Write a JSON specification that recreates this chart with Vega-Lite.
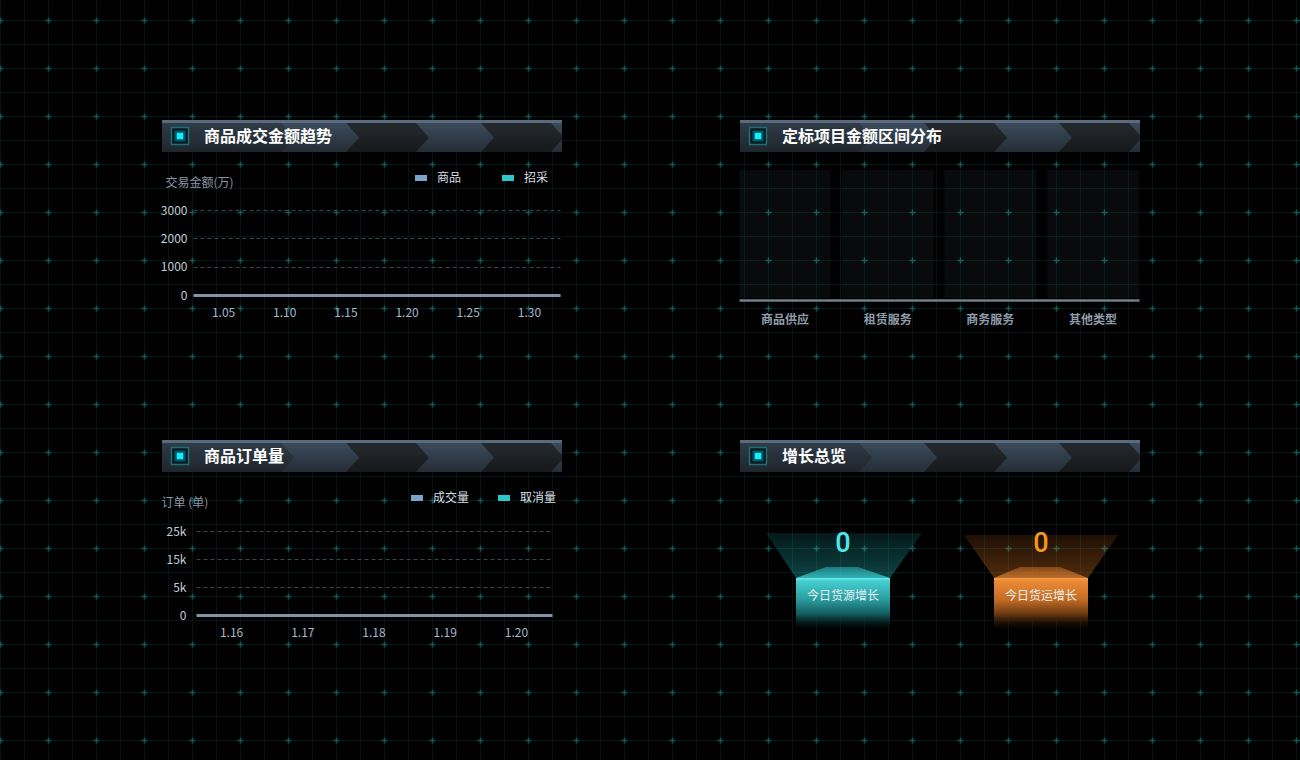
{
  "$schema": "https://vega.github.io/schema/vega-lite/v6.json",
  "width": 1300,
  "height": 760,
  "autosize": {"type": "none"},
  "padding": 0,
  "background": "#000000",
  "config": {
    "view": {"stroke": null},
    "font": "Noto Sans CJK SC",
    "axis": {"labelFont": "Noto Sans CJK SC", "titleFont": "Noto Sans CJK SC"},
    "legend": {"labelFont": "Noto Sans CJK SC"}
  },
  "datasets": {
    "panels": [
      {"title": "商品成交金额趋势", "col": "left", "row": "top"},
      {"title": "定标项目金额区间分布", "col": "right", "row": "top"},
      {"title": "商品订单量", "col": "left", "row": "bottom"},
      {"title": "增长总览", "col": "right", "row": "bottom"}
    ],
    "trend": [
      {"date": "1.03", "type": "商品", "amount": 0}, {"date": "1.03", "type": "招采", "amount": 0},
      {"date": "1.04", "type": "商品", "amount": 0}, {"date": "1.04", "type": "招采", "amount": 0},
      {"date": "1.05", "type": "商品", "amount": 0}, {"date": "1.05", "type": "招采", "amount": 0},
      {"date": "1.06", "type": "商品", "amount": 0}, {"date": "1.06", "type": "招采", "amount": 0},
      {"date": "1.07", "type": "商品", "amount": 0}, {"date": "1.07", "type": "招采", "amount": 0},
      {"date": "1.08", "type": "商品", "amount": 0}, {"date": "1.08", "type": "招采", "amount": 0},
      {"date": "1.09", "type": "商品", "amount": 0}, {"date": "1.09", "type": "招采", "amount": 0},
      {"date": "1.10", "type": "商品", "amount": 0}, {"date": "1.10", "type": "招采", "amount": 0},
      {"date": "1.11", "type": "商品", "amount": 0}, {"date": "1.11", "type": "招采", "amount": 0},
      {"date": "1.12", "type": "商品", "amount": 0}, {"date": "1.12", "type": "招采", "amount": 0},
      {"date": "1.13", "type": "商品", "amount": 0}, {"date": "1.13", "type": "招采", "amount": 0},
      {"date": "1.14", "type": "商品", "amount": 0}, {"date": "1.14", "type": "招采", "amount": 0},
      {"date": "1.15", "type": "商品", "amount": 0}, {"date": "1.15", "type": "招采", "amount": 0},
      {"date": "1.16", "type": "商品", "amount": 0}, {"date": "1.16", "type": "招采", "amount": 0},
      {"date": "1.17", "type": "商品", "amount": 0}, {"date": "1.17", "type": "招采", "amount": 0},
      {"date": "1.18", "type": "商品", "amount": 0}, {"date": "1.18", "type": "招采", "amount": 0},
      {"date": "1.19", "type": "商品", "amount": 0}, {"date": "1.19", "type": "招采", "amount": 0},
      {"date": "1.20", "type": "商品", "amount": 0}, {"date": "1.20", "type": "招采", "amount": 0},
      {"date": "1.21", "type": "商品", "amount": 0}, {"date": "1.21", "type": "招采", "amount": 0},
      {"date": "1.22", "type": "商品", "amount": 0}, {"date": "1.22", "type": "招采", "amount": 0},
      {"date": "1.23", "type": "商品", "amount": 0}, {"date": "1.23", "type": "招采", "amount": 0},
      {"date": "1.24", "type": "商品", "amount": 0}, {"date": "1.24", "type": "招采", "amount": 0},
      {"date": "1.25", "type": "商品", "amount": 0}, {"date": "1.25", "type": "招采", "amount": 0},
      {"date": "1.26", "type": "商品", "amount": 0}, {"date": "1.26", "type": "招采", "amount": 0},
      {"date": "1.27", "type": "商品", "amount": 0}, {"date": "1.27", "type": "招采", "amount": 0},
      {"date": "1.28", "type": "商品", "amount": 0}, {"date": "1.28", "type": "招采", "amount": 0},
      {"date": "1.29", "type": "商品", "amount": 0}, {"date": "1.29", "type": "招采", "amount": 0},
      {"date": "1.30", "type": "商品", "amount": 0}, {"date": "1.30", "type": "招采", "amount": 0},
      {"date": "1.31", "type": "商品", "amount": 0}, {"date": "1.31", "type": "招采", "amount": 0},
      {"date": "2.01", "type": "商品", "amount": 0}, {"date": "2.01", "type": "招采", "amount": 0}
    ],
    "orders": [
      {"date": "1.16", "type": "成交量", "count": 0}, {"date": "1.16", "type": "取消量", "count": 0},
      {"date": "1.17", "type": "成交量", "count": 0}, {"date": "1.17", "type": "取消量", "count": 0},
      {"date": "1.18", "type": "成交量", "count": 0}, {"date": "1.18", "type": "取消量", "count": 0},
      {"date": "1.19", "type": "成交量", "count": 0}, {"date": "1.19", "type": "取消量", "count": 0},
      {"date": "1.20", "type": "成交量", "count": 0}, {"date": "1.20", "type": "取消量", "count": 0}
    ],
    "dist": [
      {"category": "商品供应", "amount": 0},
      {"category": "租赁服务", "amount": 0},
      {"category": "商务服务", "amount": 0},
      {"category": "其他类型", "amount": 0}
    ],
    "kpi": [
      {"name": "今日货源增长", "value": 0},
      {"name": "今日货运增长", "value": 0}
    ]
  },
  "resolve": {
    "scale": {"x": "independent", "y": "independent", "color": "independent"},
    "axis": {"x": "independent", "y": "independent"},
    "legend": {"color": "independent"}
  },
  "layer": [
    {
      "data": {"name": "kpi"},
      "mark": {"type": "point", "opacity": 0},
      "encoding": {
        "x": {"field": "value", "type": "quantitative",
          "scale": {"domain": [-4, 1300], "range": [-4, 1300], "nice": false, "zero": false},
          "axis": {"orient": "bottom", "title": null, "labels": false, "ticks": false, "domain": false,
            "grid": true, "gridColor": "#041514", "gridWidth": 1,
            "values": [0,24,48,72,96,120,144,168,192,216,240,264,288,312,336,360,384,408,432,456,480,504,528,552,576,600,624,648,672,696,720,744,768,792,816,840,864,888,912,936,960,984,1008,1032,1056,1080,1104,1128,1152,1176,1200,1224,1248,1272,1296]}},
        "y": {"field": "value", "type": "quantitative",
          "scale": {"domain": [0, 760], "range": [0, 760], "nice": false, "zero": false},
          "axis": {"orient": "left", "title": null, "labels": false, "ticks": false, "domain": false,
            "grid": true, "gridColor": "#041514", "gridWidth": 1,
            "values": [20,44,68,92,116,140,164,188,212,236,260,284,308,332,356,380,404,428,452,476,500,524,548,572,596,620,644,668,692,716,740]}}
      }
    },
    {
      "data": {"name": "kpi"},
      "mark": {"type": "point", "opacity": 0},
      "encoding": {
        "x": {"field": "value", "type": "quantitative",
          "scale": {"domain": [-4, 1300], "range": [-4, 1300], "nice": false, "zero": false},
          "axis": {"orient": "bottom", "title": null, "labels": false, "ticks": false, "domain": false,
            "grid": true, "gridColor": "#0c5a5b", "gridWidth": 1.5, "gridDash": [6, 42], "gridDashOffset": 31,
            "values": [0,48,96,144,192,240,288,336,384,432,480,528,576,624,672,720,768,816,864,912,960,1008,1056,1104,1152,1200,1248,1296]}},
        "y": {"field": "value", "type": "quantitative",
          "scale": {"domain": [0, 760], "range": [0, 760], "nice": false, "zero": false},
          "axis": {"orient": "left", "title": null, "labels": false, "ticks": false, "domain": false,
            "grid": true, "gridColor": "#0c5a5b", "gridWidth": 1.5, "gridDash": [6, 42], "gridDashOffset": 47,
            "values": [20,68,116,164,212,260,308,356,404,452,500,548,596,644,692,740]}}
      }
    },
    {
      "data": {"name": "panels"},
      "encoding": {
        "x": {"field": "col", "type": "nominal", "sort": null,
          "scale": {"type": "band", "domain": ["left", "right"], "range": [162, 1140], "paddingInner": 0.308, "paddingOuter": 0},
          "axis": null},
        "y": {"field": "row", "type": "nominal", "sort": null,
          "scale": {"type": "band", "domain": ["top", "bottom"], "range": [120, 472], "paddingInner": 0.9, "paddingOuter": 0},
          "axis": null}
      },
      "layer": [
        {"mark": {"type": "rect", "fill": {"gradient": "linear", "x1": 0, "y1": 0, "x2": 0, "y2": 1,
          "stops": [{"offset": 0, "color": "#5a6b7e"}, {"offset": 0.085, "color": "#5a6b7e"}, {"offset": 0.095, "color": "#25292e"}, {"offset": 1, "color": "#17191b"}]}}},
        {"mark": {"type": "point", "shape": "M0,3L119,3L132,17.5L119,32L0,32Z", "size": 4, "filled": true, "opacity": 1,
            "fill": {"gradient": "linear", "x1": 0, "y1": 0, "x2": 0, "y2": 1, "stops": [{"offset": 0, "color": "#2f3b48"}, {"offset": 1, "color": "#1f252c"}]}},
          "encoding": {"x": {"field": "col", "type": "nominal", "bandPosition": 0}, "y": {"field": "row", "type": "nominal", "bandPosition": 0}}},
        {"mark": {"type": "point", "shape": "M119,3L184,3L197,17.5L184,32L119,32L132,17.5Z M254,3L319,3L332,17.5L319,32L254,32L267,17.5Z M389,3L400,3L400,15.3Z M389,32L400,32L400,19.7Z", "size": 4, "filled": true, "opacity": 1,
            "fill": {"gradient": "linear", "x1": 0, "y1": 0, "x2": 0, "y2": 1, "stops": [{"offset": 0, "color": "#3b4a5b"}, {"offset": 1, "color": "#252d36"}]}},
          "encoding": {"x": {"field": "col", "type": "nominal", "bandPosition": 0}, "y": {"field": "row", "type": "nominal", "bandPosition": 0}}},
        {"mark": {"type": "point", "shape": "square", "size": 289, "filled": true, "opacity": 1, "fill": "#0a1a20", "stroke": "#1d6f7a", "strokeWidth": 1.5, "xOffset": 18},
          "encoding": {"x": {"field": "col", "type": "nominal", "bandPosition": 0}}},
        {"mark": {"type": "point", "shape": "square", "size": 121, "filled": true, "opacity": 0.3, "fill": "#00e5ff", "xOffset": 18},
          "encoding": {"x": {"field": "col", "type": "nominal", "bandPosition": 0}}},
        {"mark": {"type": "point", "shape": "square", "size": 42, "filled": true, "opacity": 1, "fill": "#14ecff", "xOffset": 18},
          "encoding": {"x": {"field": "col", "type": "nominal", "bandPosition": 0}}},
        {"mark": {"type": "text", "align": "left", "baseline": "middle", "dx": 42, "dy": 1, "fontSize": 16, "fontWeight": "bold", "fill": "#ffffff", "font": "Noto Sans CJK SC"},
          "encoding": {"x": {"field": "col", "type": "nominal", "bandPosition": 0}, "text": {"field": "title"}}}
      ]
    },
    {
      "data": {"name": "trend"},
      "encoding": {
        "x": {"field": "date", "type": "ordinal", "sort": null,
          "scale": {"type": "band", "range": [193, 560], "paddingInner": 0, "paddingOuter": 0},
          "axis": {"orient": "bottom", "offset": -465, "values": ["1.05", "1.10", "1.15", "1.20", "1.25", "1.30"],
            "domainColor": "#8193a6", "domainWidth": 3, "ticks": false, "tickSize": 0, "labelPadding": 12,
            "labelColor": "#a6b8cc", "labelFontSize": 12, "labelAngle": 0, "title": null, "grid": false, "zindex": 1}},
        "y": {"field": "amount", "type": "quantitative",
          "scale": {"domain": [0, 3000], "range": [295, 210], "nice": false, "zero": false},
          "axis": {"orient": "left", "offset": -193, "values": [0, 1000, 2000, 3000], "format": "d", "domain": false, "ticks": false, "tickSize": 0,
            "labelPadding": 6, "labelColor": "#c3ccd6", "labelFontSize": 12,
            "grid": true, "gridDash": [4, 3], "gridColor": "#394652", "gridWidth": 1,
            "title": "交易金额(万)", "titleAngle": 0, "titleX": -28, "titleY": 182, "titleAlign": "left", "titleBaseline": "middle",
            "titleColor": "#8996a4", "titleFontSize": 12, "titleFontWeight": "normal", "zindex": 1}},
        "color": {"field": "type", "type": "nominal",
          "scale": {"domain": ["商品", "招采"], "range": ["#7ca3cc", "#2ec7c9"]},
          "legend": {"orient": "none", "legendX": 412, "legendY": 169, "direction": "horizontal", "title": null, "padding": 0,
            "symbolType": "M-1,0L1,0", "symbolSize": 144, "symbolStrokeWidth": 6, "labelOffset": 7, "columnPadding": 28,
            "labelColor": "#d6dee6", "labelFontSize": 12}}
      },
      "layer": [
        {"mark": {"type": "line"}}
      ]
    },
    {
      "data": {"name": "dist"},
      "encoding": {
        "x": {"field": "category", "type": "nominal", "sort": null,
          "scale": {"type": "band", "range": [739, 1139], "paddingInner": 0.107, "paddingOuter": 0},
          "axis": {"orient": "bottom", "offset": -460, "domainColor": "#6d7f91", "domainWidth": 2.5, "ticks": false, "tickSize": 0,
            "labelPadding": 14, "labelColor": "#8f9dab", "labelFontSize": 12, "labelFontWeight": "bold", "labelAngle": 0, "title": null, "grid": false, "zindex": 1}}
      },
      "layer": [
        {"mark": {"type": "bar", "fill": "#a8bcd0", "opacity": 0.05},
          "encoding": {"y": {"datum": 1, "type": "quantitative", "scale": {"domain": [0, 1], "range": [298, 170], "nice": false, "zero": false}, "axis": null},
            "y2": {"datum": 0}}},
        {"mark": {"type": "bar", "fill": "#5b8ff9"},
          "encoding": {"y": {"field": "amount", "type": "quantitative"}}}
      ]
    },
    {
      "data": {"name": "orders"},
      "encoding": {
        "x": {"field": "date", "type": "ordinal", "sort": null,
          "scale": {"type": "band", "range": [196, 552], "paddingInner": 0, "paddingOuter": 0},
          "axis": {"orient": "bottom", "offset": -145,
            "domainColor": "#8193a6", "domainWidth": 3, "ticks": false, "tickSize": 0, "labelPadding": 12,
            "labelColor": "#a6b8cc", "labelFontSize": 12, "labelAngle": 0, "title": null, "grid": false, "zindex": 1}},
        "y": {"field": "count", "type": "quantitative",
          "scale": {"domain": [0, 30000], "range": [615, 531], "nice": false, "zero": false},
          "axis": {"orient": "left", "offset": -193, "values": [0, 10000, 20000, 30000],
            "labelExpr": "datum.value == 0 ? '0' : datum.value == 10000 ? '5k' : datum.value == 20000 ? '15k' : '25k'",
            "domain": false, "ticks": false, "tickSize": 0,
            "labelPadding": 7, "labelColor": "#c3ccd6", "labelFontSize": 12,
            "grid": true, "gridDash": [4, 3], "gridColor": "#394652", "gridWidth": 1,
            "title": "订单 (单)", "titleAngle": 0, "titleX": -32, "titleY": 502, "titleAlign": "left", "titleBaseline": "middle",
            "titleColor": "#8996a4", "titleFontSize": 12, "titleFontWeight": "normal", "zindex": 1}},
        "color": {"field": "type", "type": "nominal",
          "scale": {"domain": ["成交量", "取消量"], "range": ["#7ca3cc", "#2ec7c9"]},
          "legend": {"orient": "none", "legendX": 408, "legendY": 489, "direction": "horizontal", "title": null, "padding": 0,
            "symbolType": "M-1,0L1,0", "symbolSize": 144, "symbolStrokeWidth": 6, "labelOffset": 7, "columnPadding": 16,
            "labelColor": "#d6dee6", "labelFontSize": 12}}
      },
      "layer": [
        {"mark": {"type": "line"}}
      ]
    },
    {
      "data": {"name": "kpi"},
      "encoding": {
        "x": {"field": "name", "type": "nominal", "sort": null,
          "scale": {"type": "point", "domain": ["今日货源增长", "今日货运增长"], "range": [843, 1041], "padding": 0},
          "axis": null},
        "y": {"datum": 0, "type": "quantitative",
          "scale": {"domain": [0, 1], "range": [578, 478], "nice": false, "zero": false},
          "axis": null}
      },
      "layer": [
        {"transform": [{"filter": "datum.name == '今日货源增长'"}],
          "mark": {"type": "point", "shape": "M-77,-45L79,-45L47,0L-47,0Z", "size": 4, "filled": true, "opacity": 1,
            "fill": {"gradient": "linear", "x1": 0, "y1": 0, "x2": 0, "y2": 1, "stops": [{"offset": 0, "color": "rgba(40,195,200,0.13)"}, {"offset": 1, "color": "rgba(40,195,200,0.34)"}]}}},
        {"transform": [{"filter": "datum.name == '今日货源增长'"}],
          "mark": {"type": "point", "shape": "M-47,0L-17,-11L15,-11L47,0Z", "size": 4, "filled": true, "opacity": 1,
            "fill": {"gradient": "linear", "x1": 0, "y1": 0, "x2": 0, "y2": 1, "stops": [{"offset": 0, "color": "rgba(50,190,195,0.5)"}, {"offset": 1, "color": "rgba(60,215,220,0.75)"}]}}},
        {"transform": [{"filter": "datum.name == '今日货源增长'"}],
          "mark": {"type": "point", "shape": "M-47,0L47,0L47,54L-47,54Z", "size": 4, "filled": true, "opacity": 1,
            "fill": {"gradient": "linear", "x1": 0, "y1": 0, "x2": 0, "y2": 1, "stops": [{"offset": 0, "color": "#6af0f0"}, {"offset": 0.05, "color": "#47cfd0"}, {"offset": 0.4, "color": "#2a9ca0"}, {"offset": 0.68, "color": "#12585a"}, {"offset": 1, "color": "rgba(0,0,0,0)"}]}}},
        {"transform": [{"filter": "datum.name == '今日货运增长'"}],
          "mark": {"type": "point", "shape": "M-77,-43L77,-43L47,0L-47,0Z", "size": 4, "filled": true, "opacity": 1,
            "fill": {"gradient": "linear", "x1": 0, "y1": 0, "x2": 0, "y2": 1, "stops": [{"offset": 0, "color": "rgba(235,125,35,0.13)"}, {"offset": 1, "color": "rgba(235,125,35,0.34)"}]}}},
        {"transform": [{"filter": "datum.name == '今日货运增长'"}],
          "mark": {"type": "point", "shape": "M-47,0L-21,-11L19,-11L47,0Z", "size": 4, "filled": true, "opacity": 1,
            "fill": {"gradient": "linear", "x1": 0, "y1": 0, "x2": 0, "y2": 1, "stops": [{"offset": 0, "color": "rgba(200,110,40,0.5)"}, {"offset": 1, "color": "rgba(225,130,50,0.75)"}]}}},
        {"transform": [{"filter": "datum.name == '今日货运增长'"}],
          "mark": {"type": "point", "shape": "M-47,0L47,0L47,54L-47,54Z", "size": 4, "filled": true, "opacity": 1,
            "fill": {"gradient": "linear", "x1": 0, "y1": 0, "x2": 0, "y2": 1, "stops": [{"offset": 0, "color": "#f7a24c"}, {"offset": 0.05, "color": "#ec8b36"}, {"offset": 0.4, "color": "#c46c24"}, {"offset": 0.68, "color": "#643612"}, {"offset": 1, "color": "rgba(0,0,0,0)"}]}}},
        {"mark": {"type": "text", "yOffset": -34, "fontSize": 27, "font": "Roboto", "fontWeight": 500, "baseline": "middle", "align": "center"},
          "encoding": {"text": {"field": "value", "type": "quantitative"},
            "color": {"field": "name", "type": "nominal", "scale": {"domain": ["今日货源增长", "今日货运增长"], "range": ["#4fe8ea", "#f7961f"]}, "legend": null}}},
        {"mark": {"type": "text", "yOffset": 18, "fontSize": 12, "font": "Noto Sans CJK SC", "baseline": "middle", "align": "center", "fill": "#e4efef"},
          "encoding": {"text": {"field": "name"}}}
      ]
    }
  ]
}
